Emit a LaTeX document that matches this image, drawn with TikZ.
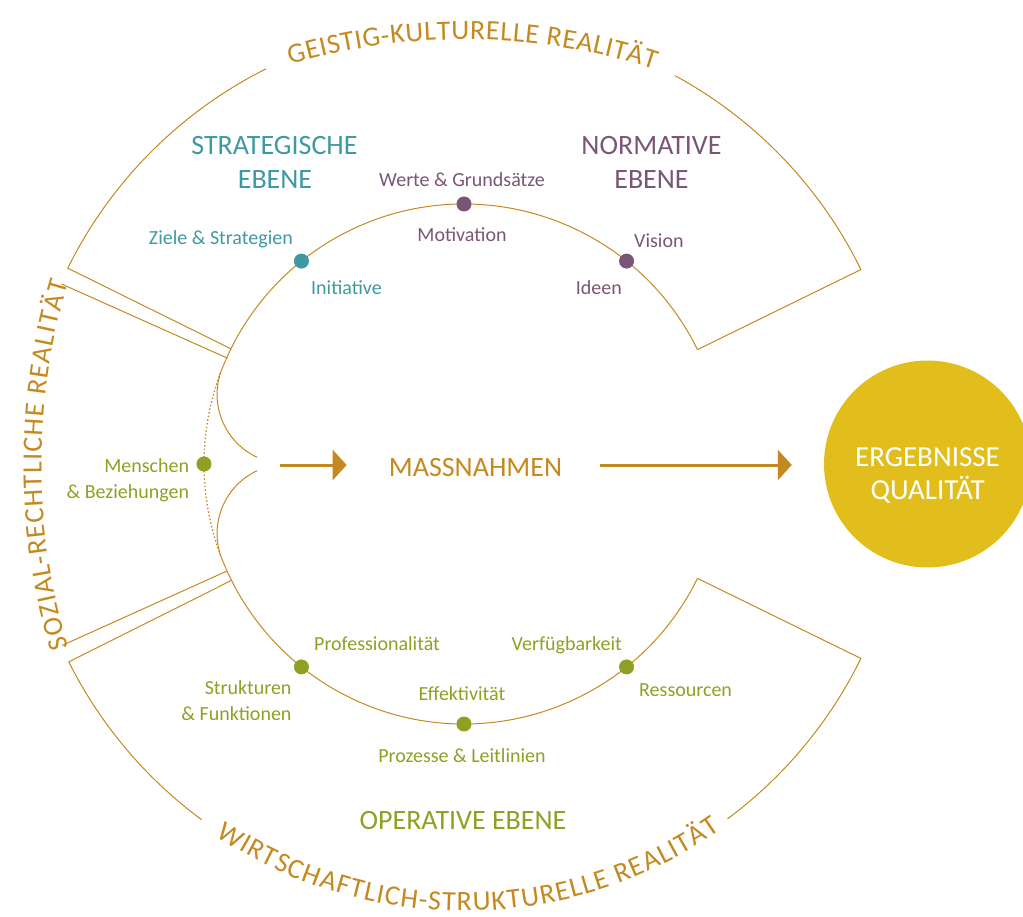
\documentclass[tikz,border=0pt]{standalone}
\usepackage{fontspec}
\setmainfont{Carlito}
\usetikzlibrary{arrows.meta,decorations.text}
\definecolor{ocker}{HTML}{C58A1F}
\definecolor{petrol}{HTML}{3E9AA0}
\definecolor{pflaume}{HTML}{7B5577}
\definecolor{oliv}{HTML}{8FA022}
\definecolor{gelb}{HTML}{E2BE1D}
\newcommand{\ringschrift}{\fontsize{28}{32}\selectfont}

\begin{document}
\begin{tikzpicture}[x=1pt,y=1pt,
	ring/.style={draw=ocker,line width=1pt},
	punkt/.style={circle,fill=#1,inner sep=0pt,minimum size=15pt},
	lbl/.style={text=#1,font=\fontsize{20}{24}\selectfont,inner sep=0pt},
	ebene/.style={text=#1,font=\fontsize{28}{32}\selectfont,inner sep=0pt},
	flow/.style={color=ocker,line width=3pt,-{Triangle[length=14pt,width=30pt]}},
	bogentext/.style={decorate,decoration={text along path,text align={fit to path},
		text color=ocker,text={|\ringschrift|#1}}}]
	\useasboundingbox (-464,-452) rectangle (559,464);
	% innerer Kreis mit Einbuchtung links
	\draw[ring] (26.1:260) arc (26.1:159.5:260) arc (162:245:69.4);
	\draw[ring] (-26.1:260) arc (-26.1:-159.5:260) arc (-162:-245:69.4);
	\draw[ring,line width=1.3pt,dash pattern=on 1.5pt off 2.2pt] (159.5:260) arc (159.5:200.5:260);
	% Ebenen
	\draw[ring] (26.1:260) -- (26.1:442) arc (26.1:61.5:442);
	\draw[ring] (116.6:442) arc (116.6:153.7:442) -- (153.7:260);
	\draw[ring] (-26.1:260) -- (-26.1:442) arc (-26.1:-53.4:442);
	\draw[ring] (-126.4:442) arc (-126.4:-153.4:442) -- (-153.4:260);
	\draw[ring] (155.9:259) -- (155.9:441);
	\draw[ring] (204.3:260) -- (204.3:441);
	% Realitaeten
	\path[bogentext={GEISTIG-KULTURELLE REALITÄT}]
		([shift={(0,-191)}]106.4:615.5) arc (106.4:72:615.5);
	\path[bogentext={SOZIAL-RECHTLICHE REALITÄT}]
		([shift={(204.5,0)}]197:627) arc (197:163.2:627);
	\path[bogentext={WIRTSCHAFTLICH-STRUKTURELLE REALITÄT}]
		(236.3:447) arc (236.3:305:447);
	% Punkte
	\node[punkt=pflaume] (werte) at (90:260) {};
	\node[punkt=petrol] (init) at (128.7:260) {};
	\node[punkt=pflaume] (vision) at (51.3:260) {};
	\node[punkt=oliv] (menschen) at (180:260) {};
	\node[punkt=oliv] (prof) at (231.3:260) {};
	\node[punkt=oliv] (effekt) at (270:260) {};
	\node[punkt=oliv] (ress) at (308.7:260) {};
	% Beschriftungen
	\node[ebene=petrol,anchor=base] (strat1) at (-189.5,309.7) {STRATEGISCHE};
	\node[ebene=petrol,anchor=base] (strat2) at (-189,275) {EBENE};
	\node[ebene=pflaume,anchor=base] (norm1) at (187.5,309.7) {NORMATIVE};
	\node[ebene=pflaume,anchor=base] (norm2) at (187.5,275) {EBENE};
	\node[lbl=pflaume,anchor=base] (wertetxt) at (-2,277.3) {Werte \& Grundsätze};
	\node[lbl=pflaume,anchor=base] (motiv) at (-2,222) {Motivation};
	\node[lbl=petrol,anchor=base east] (ziele) at (-171,219) {Ziele \& Strategien};
	\node[lbl=petrol,anchor=base west] (initiative) at (-153,169) {Initiative};
	\node[lbl=pflaume,anchor=base west] (visiontxt) at (170,216.7) {Vision};
	\node[lbl=pflaume,anchor=base east] (ideen) at (158,169) {Ideen};
	\node[lbl=oliv,anchor=base east] (mensch1) at (-274.7,-8.7) {Menschen};
	\node[lbl=oliv,anchor=base east] (mensch2) at (-274.7,-34.3) {\& Beziehungen};
	\node[lbl=oliv,anchor=base west] (professio) at (-150,-186.7) {Professionalität};
	\node[lbl=oliv,anchor=base east] (strukt1) at (-172.3,-230.3) {Strukturen};
	\node[lbl=oliv,anchor=base east] (strukt2) at (-172.3,-256) {\& Funktionen};
	\node[lbl=oliv,anchor=base] (effektiv) at (-2,-236.7) {Effektivität};
	\node[lbl=oliv,anchor=base] (prozesse) at (-2,-298.7) {Prozesse \& Leitlinien};
	\node[lbl=oliv,anchor=base east] (verfueg) at (158,-186.7) {Verfügbarkeit};
	\node[lbl=oliv,anchor=base west] (ressourcen) at (175,-232) {Ressourcen};
	\node[ebene=oliv,anchor=base] (operativ) at (-1,-365.3) {OPERATIVE EBENE};
	\node[ebene=ocker,anchor=base] (massn) at (11.5,-12) {MASSNAHMEN};
	\node[circle,fill=gelb,minimum size=207pt,inner sep=0pt] (ergebnis) at (463.5,0) {};
	\node[ebene=white,anchor=base,font=\fontsize{29}{33}\selectfont] (erg1) at (463.5,-2) {ERGEBNISSE};
	\node[ebene=white,anchor=base,font=\fontsize{29}{33}\selectfont] (erg2) at (463.7,-35.3) {QUALITÄT};
	% Pfeile
	\coordinate (spitze) at (-205,-1);
	\draw[flow,shorten <=21pt,shorten >=42pt] (spitze) -- (massn.west |- spitze);
	\draw[flow,shorten <=38pt,shorten >=32pt] (massn.east |- spitze) -- (ergebnis.west |- spitze);
\end{tikzpicture}
\end{document}
